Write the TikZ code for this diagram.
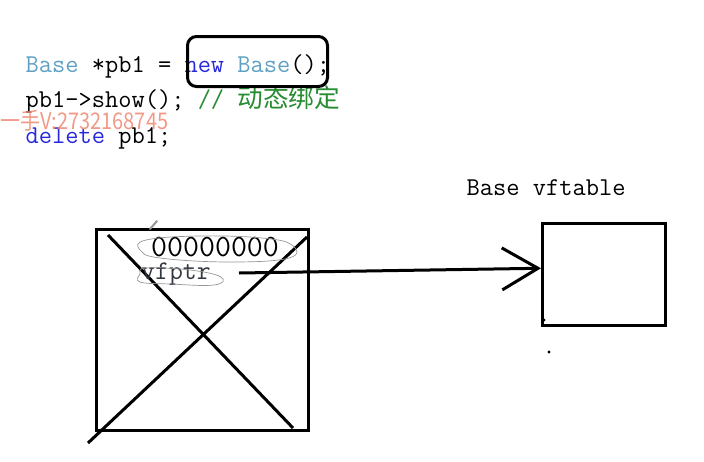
\documentclass[tikz,border=0pt]{standalone}
\usepackage{fontspec}
\newfontfamily\cjk{Noto Sans CJK SC}
\usetikzlibrary{arrows.meta}
\definecolor{kw}{RGB}{40,40,220}
\definecolor{ty}{RGB}{95,160,195}
\definecolor{cm}{RGB}{40,140,50}
\definecolor{wm}{RGB}{240,135,115}
\definecolor{scrib}{RGB}{150,150,150}
\newcommand\codefont{\ttfamily\fontsize{25.7}{30}\selectfont}
\tikzset{
  code/.style={inner sep=0pt, anchor=base west, font=\codefont},
  thickbox/.style={draw, line width=3pt, inner sep=0pt},
  thickline/.style={line width=3pt},
  scribble/.style={draw=scrib, line width=0.7pt},
}
\begin{document}
\begin{tikzpicture}[x=1pt,y=-1pt]
\useasboundingbox (0,0) rectangle (704,461);
% code lines
\node[code] (l1) at (25.5,72) {\textcolor{ty}{Base} *pb1 = \textcolor{kw}{new} \textcolor{ty}{Base}();};
\node[code] (l2) at (25.5,107) {pb1->show(); \textcolor{cm}{// {\cjk 动态绑定}}};
\node[code] (l3) at (25.5,143) {\textcolor{kw}{delete} pb1;};
% watermark
\node[inner sep=0pt, anchor=base west, text=wm, font=\cjk\fontsize{20}{24}\selectfont, yscale=1.15, transform shape, opacity=0.85] (wm) at (0,129) {一手V:2732168745};
% rounded highlight box
\node[thickbox, rounded corners=9pt, minimum width=140pt, minimum height=50pt] (nb) at (257.5,61.5) {};
% object box
\node[thickbox, minimum width=211.5pt, minimum height=201pt] (obj) at (202.25,329.5) {};
\coordinate (d1a) at (108,235);
\coordinate (d1b) at (293,428);
\coordinate (d2a) at (88,443);
\coordinate (d2b) at (307,237);
\draw[thickline] (d1a) -- (d1b);
\draw[thickline] (d2a) -- (d2b);
% contents
\node[inner sep=0pt, anchor=base west, font=\ttfamily\fontsize{31}{34}\selectfont] (zeros) at (151,256) {00000000};
\node[inner sep=0pt, anchor=base west, font=\ttfamily\fontsize{27}{30}\selectfont, text={rgb,255:red,50;green,55;blue,65}] (vfp) at (141,279) {vfptr};
% scribbles
\draw[scribble] plot[smooth cycle, tension=0.7] coordinates {(146,240) (200,236) (262,238) (292,245) (289,258) (230,262) (160,258) (140,250)};
\draw[scribble] plot[smooth cycle, tension=0.7] coordinates {(146,268) (190,270) (221,277) (214,285) (170,284) (140,282) (140,274)};
\draw[draw=scrib, line width=2pt, line cap=round] (150,229) -- (157,221);
% vftable
\node[inner sep=0pt, anchor=base west, font=\codefont] (vtl) at (466.5,195) {Base vftable};
\node[thickbox, minimum width=122.5pt, minimum height=101.5pt] (vft) at (603.75,274.25) {};
% arrow
\coordinate (vptr) at (239,273);
\draw[thickline, -{Straight Barb[length=36pt, width=42pt, line width=3pt]}] (vptr) -- ([yshift=6pt]vft.west);
% dots
\fill (544,320) circle (1.6pt);
\fill (549,352) circle (1.6pt);
\end{tikzpicture}
\end{document}
